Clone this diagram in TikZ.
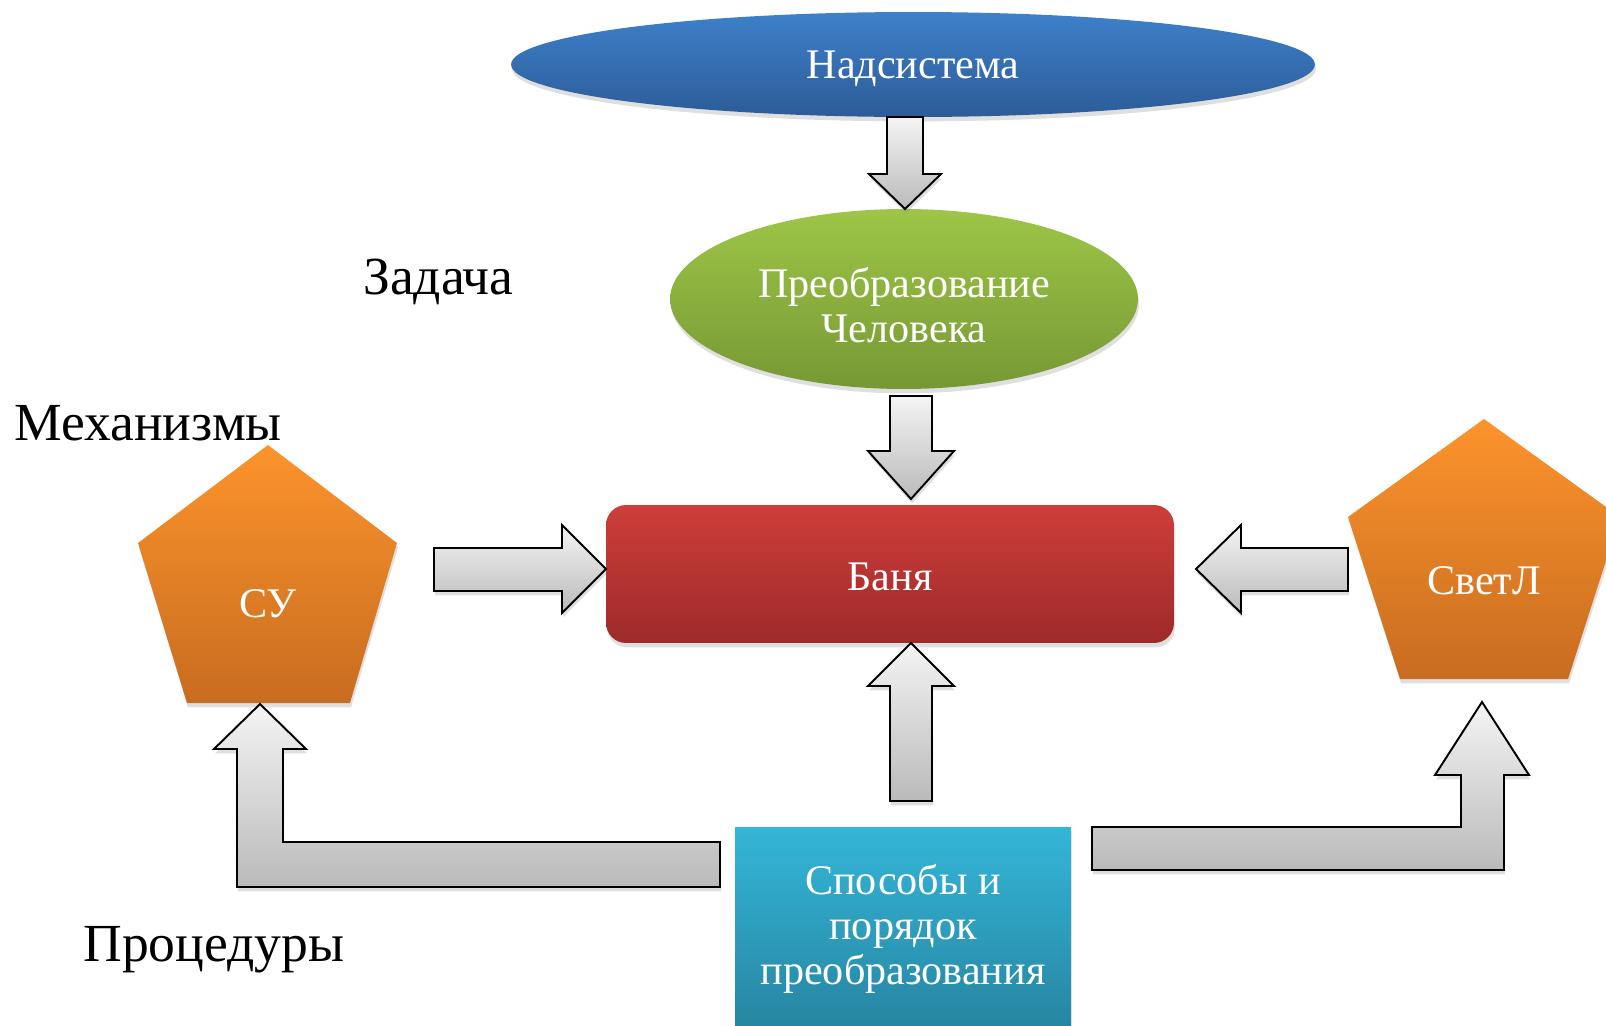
\documentclass[tikz,border=0pt]{standalone}
\usepackage{fontspec}
\setmainfont{Liberation Serif}
\usetikzlibrary{shapes.geometric,shadows}
\definecolor{blueT}{RGB}{62,128,202}
\definecolor{blueB}{RGB}{44,92,152}
\definecolor{greenT}{RGB}{158,198,72}
\definecolor{greenB}{RGB}{118,152,52}
\definecolor{redT}{RGB}{205,62,58}
\definecolor{redB}{RGB}{158,42,42}
\definecolor{orT}{RGB}{252,148,44}
\definecolor{orB}{RGB}{200,108,32}
\definecolor{cyT}{RGB}{52,182,216}
\definecolor{cyB}{RGB}{38,130,158}
\definecolor{arrT}{RGB}{244,244,244}
\definecolor{arrB}{RGB}{186,186,186}
\tikzset{
  wtext/.style={text=white, font=\fontsize{24}{25.6}\selectfont, align=center},
  shad/.style={drop shadow={opacity=0.25, shadow xshift=0.6pt, shadow yshift=-2.5pt}},
  blk/.style={draw=black, line width=1.1pt, line join=miter, top color=arrT, bottom color=arrB, shad},
  pent/.style={top color=orT, bottom color=orB, shad},
  lbl/.style={font=\fontsize{30.5}{36}\selectfont, inner sep=0pt, anchor=base west},
}
\begin{document}
\begin{tikzpicture}[x=0.02cm,y=-0.02cm]
\useasboundingbox (0,0) rectangle (1606,1025);
\clip (0,0) rectangle (1606,1025);

% main shapes
\node[ellipse, minimum width=16.08cm, minimum height=2.1cm, top color=blueT, bottom color=blueB, shad,
  label={[wtext, yshift=-0.08cm]center:Надсистема}] (nad) at (913,64.5) {};
\node[ellipse, minimum width=9.36cm, minimum height=3.6cm, top color=greenT, bottom color=greenB, shad,
  label={[wtext, yshift=-0.12cm]center:Преобразование\\Человека}] (pre) at (904,299) {};
\node[rectangle, rounded corners=0.4cm, minimum width=11.36cm, minimum height=2.76cm, top color=redT, bottom color=redB, shad,
  label={[wtext, yshift=-0.06cm]center:Баня}] (ban) at (890,574) {};
\node[rectangle, minimum width=6.72cm, minimum height=4.26cm, top color=cyT, bottom color=cyB, shad,
  label={[wtext, yshift=0.1cm]center:Способы и\\порядок\\преобразования}] (spo) at (903,933.5) {};

% pentagons
\path[pent] (268,445) -- (397,543) -- (350,703) -- (187,703) -- (138,543) -- cycle;
\node[wtext] (su) at (268,604) {СУ};
\path[pent] (1484,419) -- (1620,517) -- (1568,679) -- (1400,679) -- (1348,517) -- cycle;
\node[wtext] (svet) at (1484,581) {СветЛ};

% labels
\node[lbl] (zad) at (363,294) {Задача};
\node[lbl] (mex) at (14,440) {Механизмы};
\node[lbl] (pro) at (83,961) {Процедуры};

% block arrows
% Надсистема -> Преобразование
\path[blk] (887,117) -- (923,117) -- (923,174) -- (941,174) -- (905,209) -- (869,174) -- (887,174) -- cycle;
% Преобразование -> Баня
\path[blk] (890,396) -- (932,396) -- (932,451) -- (954,451) -- (911,499) -- (868,451) -- (890,451) -- cycle;
% Способы -> Баня (up)
\path[blk] (890,801) -- (932,801) -- (932,686) -- (954,686) -- (911,643) -- (868,686) -- (890,686) -- cycle;
% СУ -> Баня
\path[blk] (434,548) -- (562,548) -- (562,525) -- (606,569) -- (562,613) -- (562,591) -- (434,591) -- cycle;
% СветЛ -> Баня
\path[blk] (1348,548) -- (1241,548) -- (1241,525) -- (1196,569) -- (1241,613) -- (1241,591) -- (1348,591) -- cycle;
% Способы -> СУ (L)
\path[blk] (720,842) -- (283,842) -- (283,749) -- (306,749) -- (260,704) -- (214,749) -- (237,749) -- (237,887) -- (720,887) -- cycle;
% Способы -> СветЛ (L)
\path[blk] (1092,827) -- (1461,827) -- (1461,775) -- (1435,775) -- (1482,702) -- (1529,775) -- (1504,775) -- (1504,870) -- (1092,870) -- cycle;
\end{tikzpicture}
\end{document}
